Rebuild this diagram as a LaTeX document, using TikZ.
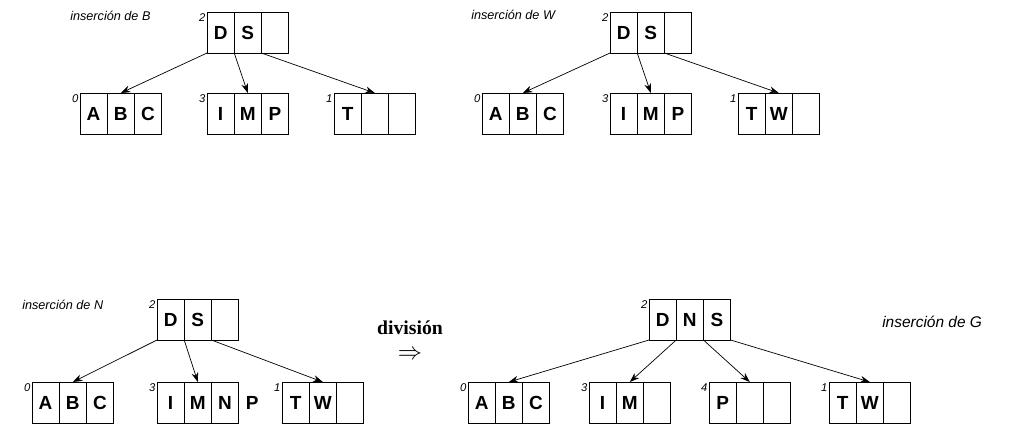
\documentclass[tikz,border=0pt]{standalone}
\usepackage{fontspec}
\setmainfont{Liberation Serif}
\setsansfont{Liberation Sans}
\usepackage{tikz}
\usetikzlibrary{positioning, arrows.meta}
\newcommand{\celdaancho}{0.68cm}
\newcommand{\nodo}[6]{%
	\node[celda, anchor=north west] (#1a) at (#2) {#3};
	\node[celda, right=0pt of #1a] (#1b) {#4};
	\node[celda, right=0pt of #1b] (#1c) {#5};
	\node[nivel, anchor=north east] (#1n) at (#1a.north west) {#6};}

\begin{document}
\begin{tikzpicture}[x=0.025cm, y=-0.025cm]
	\tikzstyle{celda}=[draw=black, line width=0.6pt, minimum width=\celdaancho, minimum height=1.025cm, inner sep=0pt, outer sep=0pt, font=\sffamily\bfseries\fontsize{13.5}{15}\selectfont]
	\tikzstyle{nivel}=[inner sep=1pt, font=\sffamily\itshape\fontsize{8}{9}\selectfont]
	\tikzstyle{titulo}=[anchor=west, inner sep=0pt, font=\sffamily\itshape\fontsize{9}{10}\selectfont]
	\tikzstyle{puntero}=[-{Stealth[length=2.4mm,width=1.7mm]}, line width=0.5pt]

	\useasboundingbox (0,0) rectangle (1020,423);

	% insercion de B
	\node[titulo] (tb) at (70,16) {inserción de B};
	\nodo{ar}{207,12}{D}{S}{}{2}
	\nodo{ah1}{80,93}{A}{B}{C}{0}
	\nodo{ah2}{207,93}{I}{M}{P}{3}
	\nodo{ah3}{334,93}{T}{}{}{1}
	\draw[puntero] (ara.south west) -- (ah1b.north);
	\draw[puntero] (arb.south west) -- (ah2b.north);
	\draw[puntero] (arc.south west) -- (ah3b.north);

	% insercion de W
	\node[titulo] (tw) at (471,15) {inserción de W};
	\nodo{br}{610,12}{D}{S}{}{2}
	\nodo{bh1}{482,93}{A}{B}{C}{0}
	\nodo{bh2}{610,93}{I}{M}{P}{3}
	\nodo{bh3}{738,93}{T}{W}{}{1}
	\draw[puntero] (bra.south west) -- (bh1b.north);
	\draw[puntero] (brb.south west) -- (bh2b.north);
	\draw[puntero] (brc.south west) -- (bh3b.north);

	% insercion de N
	\node[titulo] (tn) at (22,305) {inserción de N};
	\nodo{cr}{157,299}{D}{S}{}{2}
	\nodo{ch1}{32,382}{A}{B}{C}{0}
	\nodo{ch2}{157,382}{I}{M}{N}{3}
	\node[celda, draw=none, right=0pt of ch2c] (chp) {P};
	\nodo{ch3}{282,382}{T}{W}{}{1}
	\draw[puntero] (cra.south west) -- (ch1b.north);
	\draw[puntero] (crb.south west) -- (ch2b.north);
	\draw[puntero] (crc.south west) -- (ch3b.north);

	% division
	\node[inner sep=0pt] (div) at (410,328) {\bfseries\fontsize{14}{16}\selectfont división};
	\node[inner sep=0pt] (flecha) at (410,355) {\fontsize{17}{18}\selectfont$\Rightarrow$};

	% insercion de G
	\node[titulo, font=\sffamily\itshape\fontsize{11}{12}\selectfont] (tg) at (882,322) {inserción de G};
	\nodo{dr}{649,299}{D}{N}{S}{2}
	\nodo{dh1}{468,382}{A}{B}{C}{0}
	\nodo{dh2}{589,382}{I}{M}{}{3}
	\nodo{dh3}{709,382}{P}{}{}{4}
	\nodo{dh4}{829,382}{T}{W}{}{1}
	\draw[puntero] (dra.south west) -- (dh1b.north);
	\draw[puntero] (drb.south west) -- (dh2b.north);
	\draw[puntero] (drc.south west) -- (dh3b.north);
	\draw[puntero] (drc.south east) -- (dh4b.north);
\end{tikzpicture}
\end{document}
